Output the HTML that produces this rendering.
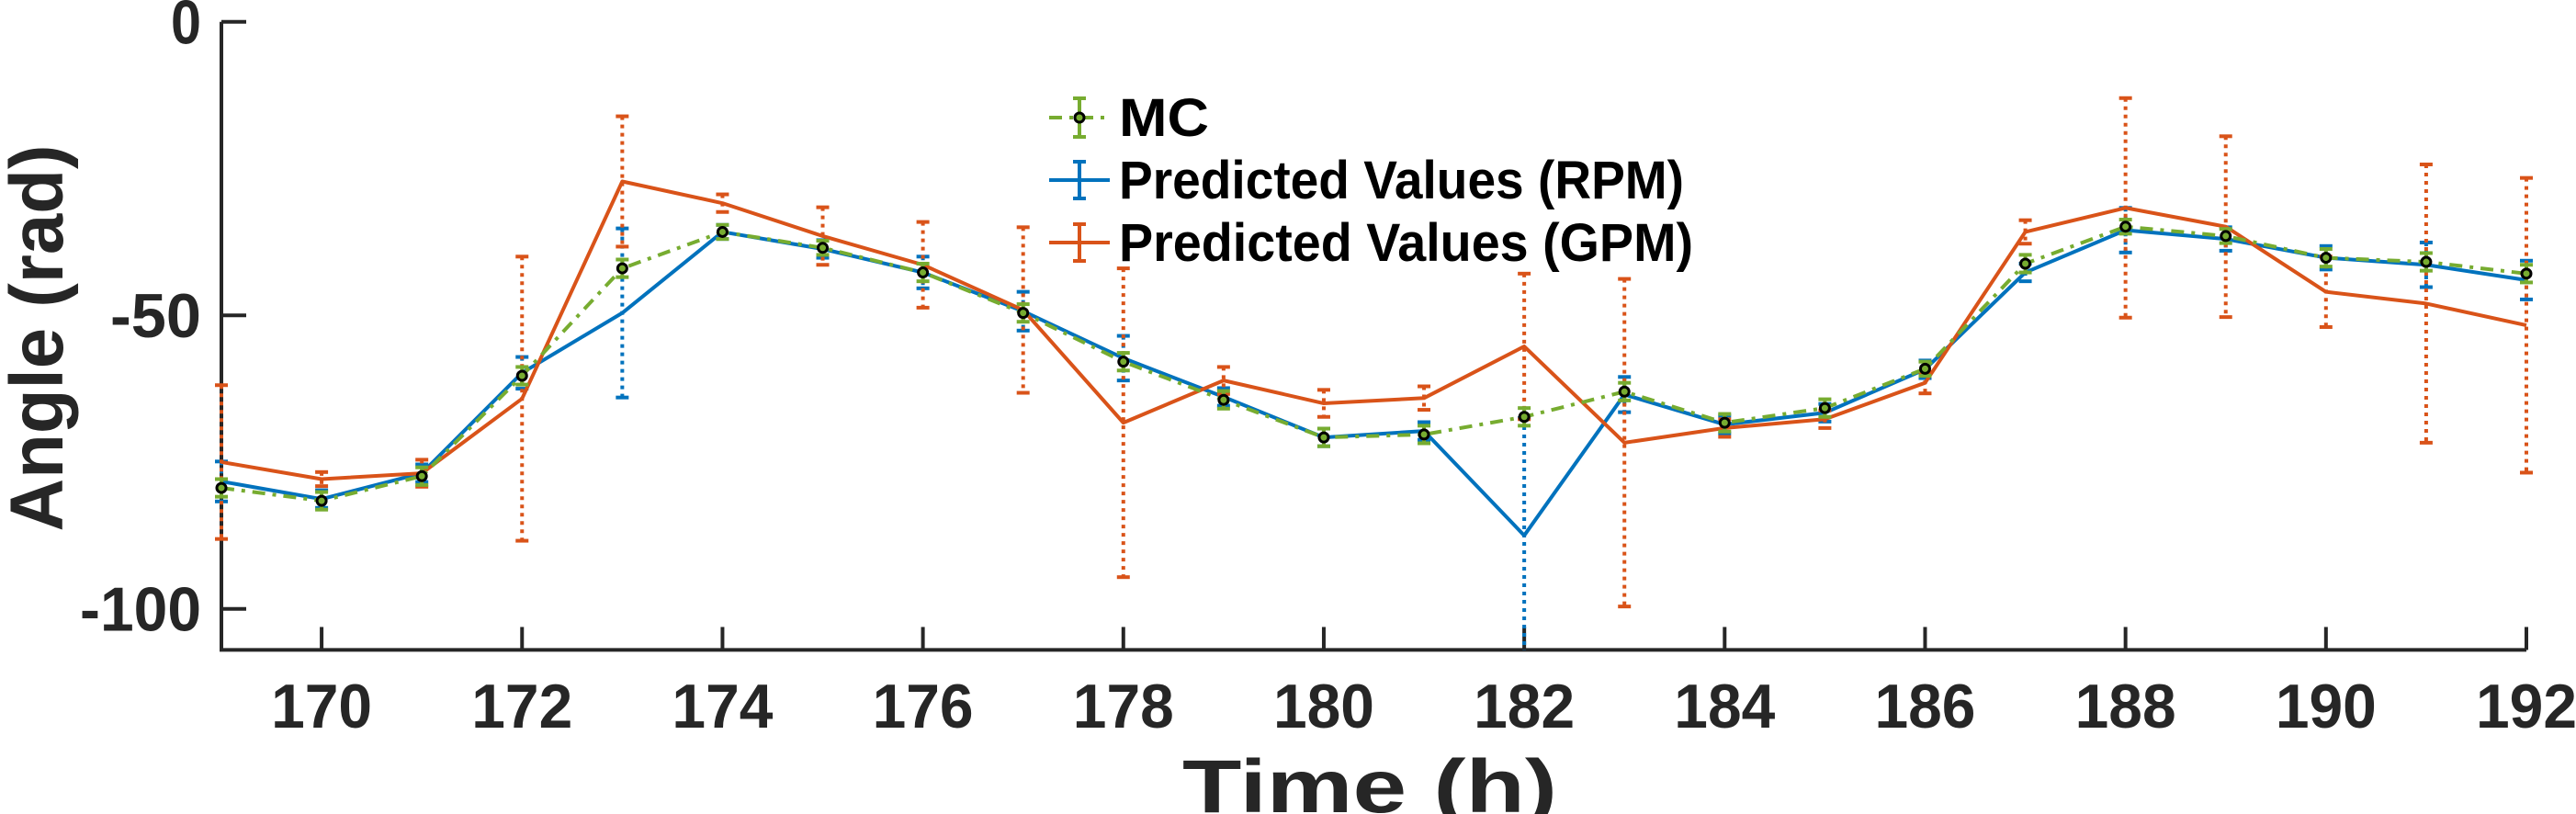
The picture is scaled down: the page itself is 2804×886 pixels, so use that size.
<!DOCTYPE html>
<html><head><meta charset="utf-8"><style>
html,body{margin:0;padding:0;background:#fff;}
svg{display:block;}
text{font-family:"Liberation Sans",Arial,sans-serif;font-weight:bold;}
</style></head><body>
<svg id="chart" width="2804" height="886" viewBox="0 0 2804 886" xmlns="http://www.w3.org/2000/svg">
<g id="axes"></g>
<g id="series"></g>
<g id="legend">
  <g>
    <line x1="1142" y1="128" x2="1208" y2="128" stroke="#77AC30" stroke-width="4" stroke-dasharray="14,8,4,8"/>
    <line x1="1175" y1="107" x2="1175" y2="149" stroke="#77AC30" stroke-width="4"/>
    <line x1="1168" y1="107" x2="1182" y2="107" stroke="#77AC30" stroke-width="4"/>
    <line x1="1168" y1="149" x2="1182" y2="149" stroke="#77AC30" stroke-width="4"/>
    <circle cx="1175" cy="128" r="5" fill="#77AC30" stroke="#000" stroke-width="3"/>
    <text x="1218" y="148" font-size="58" fill="#000" textLength="98" lengthAdjust="spacingAndGlyphs">MC</text>
  </g>
  <g>
    <line x1="1142" y1="196" x2="1208" y2="196" stroke="#0072BD" stroke-width="4"/>
    <line x1="1175" y1="176" x2="1175" y2="216" stroke="#0072BD" stroke-width="4"/>
    <line x1="1168" y1="176" x2="1182" y2="176" stroke="#0072BD" stroke-width="4"/>
    <line x1="1168" y1="216" x2="1182" y2="216" stroke="#0072BD" stroke-width="4"/>
    <text x="1218" y="216" font-size="58" fill="#000" textLength="615" lengthAdjust="spacingAndGlyphs">Predicted Values (RPM)</text>
  </g>
  <g>
    <line x1="1142" y1="264" x2="1208" y2="264" stroke="#D95319" stroke-width="4"/>
    <line x1="1175" y1="244" x2="1175" y2="284" stroke="#D95319" stroke-width="4"/>
    <line x1="1168" y1="244" x2="1182" y2="244" stroke="#D95319" stroke-width="4"/>
    <line x1="1168" y1="284" x2="1182" y2="284" stroke="#D95319" stroke-width="4"/>
    <text x="1218" y="284" font-size="58" fill="#000" textLength="625" lengthAdjust="spacingAndGlyphs">Predicted Values (GPM)</text>
  </g>
</g>
</svg>
<script>
const hours = [169,170,171,172,173,174,175,176,177,178,179,180,181,182,183,184,185,186,187,188,189,190,191,192];
const mcValues = [-79.4,-81.6,-77.4,-60.3,-42.0,-35.8,-38.5,-42.7,-49.6,-57.9,-64.4,-70.8,-70.3,-67.3,-63.0,-68.3,-65.8,-59.1,-41.2,-34.9,-36.5,-40.2,-40.9,-42.9];
const mcErrors = [1.5,1.5,1.5,1.5,1.5,1.2,1.2,1.5,1.5,1.5,1.5,1.5,1.5,1.5,1.5,1.5,1.5,1.2,1.5,1.2,1.2,1.5,1.5,1.5];
const rpmValues = [-78.3,-81.3,-76.9,-59.8,-49.6,-35.8,-38.7,-42.7,-49.3,-57.3,-63.9,-70.8,-69.7,-87.5,-63.5,-68.6,-66.6,-59.2,-42.7,-35.5,-37.0,-40.2,-41.4,-44.0];
const rpmErrors = [3.4,1.5,1.5,2.7,14.4,1.2,1.5,2.7,3.3,3.8,1.5,1.5,1.5,20,3.0,1.5,1.5,1.5,1.5,3.8,2.0,2.0,3.8,3.3];
const gpmValues = [-75.0,-77.9,-76.9,-64.2,-27.2,-30.9,-36.5,-41.4,-49.1,-68.3,-61.1,-65.0,-64.1,-55.3,-71.7,-69.2,-67.7,-61.5,-35.8,-31.7,-34.9,-46.0,-48.0,-51.7];
const gpmErrors = [13.1,1.2,2.3,24.2,11.1,1.5,4.9,7.3,14.1,26.3,2.3,2.3,2.0,12.4,27.9,1.5,1.5,1.8,2.0,18.7,15.4,6.0,23.7,25.1];
const xTicks = [170,172,174,176,178,180,182,184,186,188,190,192];
const yTicks = [0,-50,-100];
const yTickLabels = ["0","-50","-100"];

const X0=241, X1=2750, XMIN=169, XMAX=192;
const Y0=23.7, YMIN=-107, YMAX=0, YPX=6.39;
function sx(h){return X0+(h-XMIN)*(X1-X0)/(XMAX-XMIN);}
function sy(v){return Y0+(YMAX-v)*YPX;}
const YB=sy(YMIN);
const NS="http://www.w3.org/2000/svg";
function mk(tag,attrs,parent){const e=document.createElementNS(NS,tag);for(const k in attrs)e.setAttribute(k,attrs[k]);parent.appendChild(e);return e;}

const axes=document.getElementById('axes');
let a=mk('path',{d:`M${X0} ${Y0}V${YB}H${X1}`,fill:'none',stroke:'#262626','stroke-width':4},axes);


xTicks.forEach(t=>{
  const l=mk('line',{x1:sx(t),x2:sx(t),y1:YB,y2:YB-25,stroke:'#262626','stroke-width':4},axes);
  
  
  const tx=mk('text',{x:sx(t),y:792,'font-size':68,'text-anchor':'middle',fill:'#262626',textLength:110,lengthAdjust:'spacingAndGlyphs'},axes);
  tx.textContent=t;
  
  
});
yTicks.forEach((t,i)=>{
  const l=mk('line',{x1:X0,x2:X0+27,y1:sy(t),y2:sy(t),stroke:'#262626','stroke-width':4},axes);
  
  
  const tx=mk('text',{x:219,y:sy(t)+24,'font-size':68,'text-anchor':'end',fill:'#262626',textLength:yTickLabels[i].length*33,lengthAdjust:'spacingAndGlyphs'},axes);
  tx.textContent=yTickLabels[i];
  
  
});
let xt=mk('text',{x:1491,y:884,'font-size':82,'text-anchor':'middle',fill:'#262626',textLength:408,lengthAdjust:'spacingAndGlyphs'},axes);
xt.textContent='Time (h)';


let yt=mk('text',{x:0,y:0,'font-size':82,'text-anchor':'middle',fill:'#262626',transform:'translate(68,368) rotate(-90)',textLength:421,lengthAdjust:'spacingAndGlyphs'},axes);
yt.textContent='Angle (rad)';



const ser=document.getElementById('series');
function drawSeries(name,vals,errs,color,dash,errDash,markers){
  const g=mk('g',{},ser);
  
  
  hours.forEach((h,i)=>{
    const x=sx(h), top=sy(vals[i]+errs[i]), bot=Math.min(sy(vals[i]-errs[i]),YB);
    const e=mk('line',{x1:x,x2:x,y1:top,y2:bot,stroke:color,'stroke-width':4,'stroke-dasharray':errDash},g);
    
    
    mk('line',{x1:x-7,x2:x+7,y1:top,y2:top,stroke:color,'stroke-width':4},g);
    if(sy(vals[i]-errs[i])<=YB) mk('line',{x1:x-7,x2:x+7,y1:bot,y2:bot,stroke:color,'stroke-width':4},g);
  });
  const p=mk('polyline',{points:hours.map((h,i)=>sx(h)+','+sy(vals[i])).join(' '),fill:'none',stroke:color,'stroke-width':4,'stroke-dasharray':dash,'stroke-linejoin':'round'},g);
  
  
  if(markers){hours.forEach((h,i)=>{
    const c=mk('circle',{cx:sx(h),cy:sy(vals[i]),r:5,fill:color,stroke:'#000','stroke-width':3},g);
    
    
  });}
}
drawSeries('rpm-series',rpmValues,rpmErrors,'#0072BD','none','4,5',false);
drawSeries('gpm-series',gpmValues,gpmErrors,'#D95319','none','4,5',false);
drawSeries('mc-series',mcValues,mcErrors,'#77AC30','14,8,4,8','none',true);
</script>
</body></html>
